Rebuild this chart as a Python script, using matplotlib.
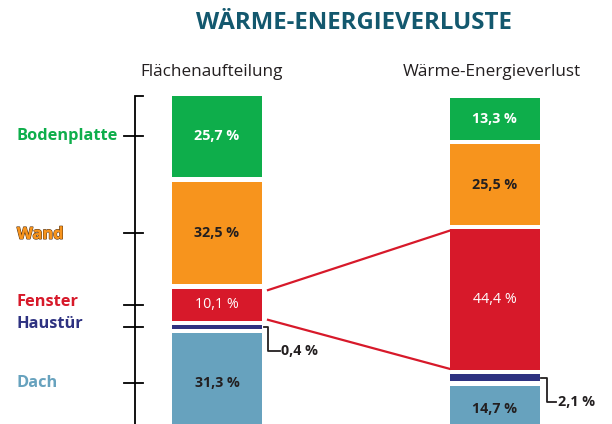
import numpy as np
import matplotlib.pyplot as plt
import matplotlib.patheffects as pe

plt.rcParams['font.family'] = ['Open Sans', 'DejaVu Sans']

# Daten (von unten nach oben)
categories = ['Dach', 'Haustür', 'Fenster', 'Wand', 'Bodenplatte']
flaeche = [31.3, 0.4, 10.1, 32.5, 25.7]
verlust = [14.7, 2.1, 44.4, 25.5, 13.3]
bar_titles = ['Flächenaufteilung', 'Wärme-Energieverlust']
title = 'WÄRME-ENERGIEVERLUSTE'

colors = ['#67a2be', '#2e3281', '#d7192a', '#f7941d', '#0eae4b']
label_colors = ['#67a2be', '#2e3281', '#d7192a', '#f7941d', '#0eae4b']
value_colors = ['#231f20', '#231f20', 'white', '#231f20', 'white']
value_weights = ['bold', 'bold', 'normal', 'bold', 'bold']

gap = 1.45
min_h = 1.0
s = 3.16  # px pro Prozentpunkt

fig = plt.figure(figsize=(6.12, 4.24), dpi=100)
ax = fig.add_axes([0, 0, 1, 1])
ax.set_xlim(0, 612)
ax.set_ylim(8 / s, 432 / s)
ax.axis('off')


def stack(values):
    heights = [max(v, min_h) for v in values]
    bottoms = []
    b = 0
    for h in heights:
        bottoms.append(b)
        b += h + gap
    return np.array(bottoms), np.array(heights)


x_left, x_right, w = 217, 494.5, 90
bl, hl = stack(flaeche)
br, hr = stack(verlust)

ax.bar(x_left, hl, w, bottom=bl, color=colors, linewidth=0)
ax.bar(x_right, hr, w, bottom=br, color=colors, linewidth=0)

# Werte in den Segmenten
for i, v in enumerate(flaeche):
    if v < 1:
        continue
    ax.text(x_left, bl[i] + hl[i] / 2, f'{v:.1f} %'.replace('.', ','),
            ha='center', va='center', fontsize=10.3, color=value_colors[i],
            fontweight=value_weights[i])
for i, v in enumerate(verlust):
    if v < 3:
        continue
    ax.text(x_right, br[i] + hr[i] / 2, f'{v:.1f} %'.replace('.', ','),
            ha='center', va='center', fontsize=10.3, color=value_colors[i],
            fontweight=value_weights[i])

# linke Achse mit Markierungen
ax_x = 135
top = bl[-1] + hl[-1]
ax.plot([ax_x + 8, ax_x, ax_x], [top, top, -10], color='black', lw=1.3,
        solid_joinstyle='miter')
for i, cat in enumerate(categories):
    yc = bl[i] + hl[i] / 2
    ax.plot([124, 143], [yc, yc], color='black', lw=1.3)
    dy = {'Fenster': 0.8, 'Haustür': 1.0, 'Wand': -0.6}.get(cat, 0)
    t = ax.text(17, yc + dy, cat, ha='left', va='center', fontsize=11.8,
                fontweight='bold', color=label_colors[i])
    if cat == 'Wand':
        t.set_path_effects([pe.withStroke(linewidth=1.0, foreground='#5a3410'),
                            pe.Normal()])

# rote Verbindungslinien (Fenster)
fi = categories.index('Fenster')
ax.plot([268, x_right - w / 2], [bl[fi] + hl[fi] - 0.4, br[fi] + hr[fi] - 0.4],
        color='#d7192a', lw=1.6)
ax.plot([268, x_right - w / 2], [bl[fi] + 0.3, br[fi] + 0.3],
        color='#d7192a', lw=1.6)

# Klammern für kleine Werte
hi = categories.index('Haustür')
y0 = bl[hi] + hl[hi] / 2
y1 = y0 - 7.6
ax.plot([264, 268, 268, 280], [y0, y0, y1, y1], color='#231f20', lw=1.3)
ax.text(281, y1, '0,4 %', ha='left', va='center', fontsize=10.3,
        fontweight='bold', color='#231f20')
y0 = br[hi] + hr[hi] / 2
y1 = y0 - 7.8
ax.plot([541, 547, 547, 556], [y0, y0, y1, y1], color='#231f20', lw=1.3)
ax.text(558, y1, '2,1 %', ha='left', va='center', fontsize=10.3,
        fontweight='bold', color='#231f20')

# Titel
fig.text(354 / 612, 1 - 23 / 424, title, ha='center', va='center',
         fontsize=17.3, fontweight='bold', color='#13586e')
fig.text(212 / 612, 1 - 72 / 424, bar_titles[0], ha='center', va='center',
         fontsize=12.3, color='#231f20')
fig.text(492 / 612, 1 - 72 / 424, bar_titles[1], ha='center', va='center',
         fontsize=12.3, color='#231f20')

fig.savefig('out.png', dpi=100)
